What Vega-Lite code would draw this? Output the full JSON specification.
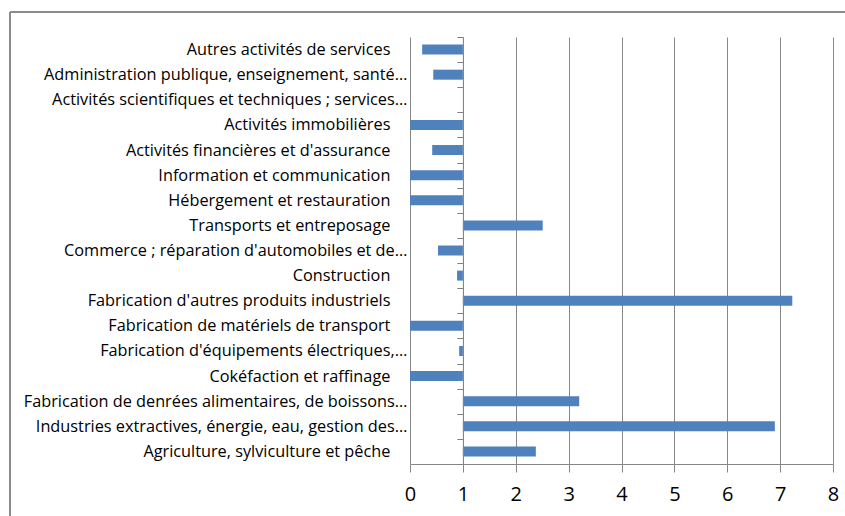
{
  "$schema": "https://vega.github.io/schema/vega-lite/v6.json",
  "autosize": "none",
  "width": 423,
  "height": 427,
  "padding": {"left": 410, "top": 37, "right": 12, "bottom": 52},
  "background": "white",
  "config": {"view": {"stroke": null}, "font": "Open Sans", "axisBand": {"ticks": true, "tickBand": "extent"}},
  "data": {"values": [
    {"sector": "Autres activités de services", "value": 0.23},
    {"sector": "Administration publique, enseignement, santé…", "value": 0.44},
    {"sector": "Activités scientifiques et techniques ; services…", "value": 1},
    {"sector": "Activités immobilières", "value": 0},
    {"sector": "Activités financières et d'assurance", "value": 0.42},
    {"sector": "Information et communication", "value": 0},
    {"sector": "Hébergement et restauration", "value": 0},
    {"sector": "Transports et entreposage", "value": 2.51},
    {"sector": "Commerce ; réparation d'automobiles et de…", "value": 0.53},
    {"sector": "Construction", "value": 0.89},
    {"sector": "Fabrication d'autres produits industriels", "value": 7.23},
    {"sector": "Fabrication de matériels de transport", "value": 0},
    {"sector": "Fabrication d'équipements électriques,…", "value": 0.93},
    {"sector": "Cokéfaction et raffinage", "value": 0},
    {"sector": "Fabrication de denrées alimentaires, de boissons…", "value": 3.2},
    {"sector": "Industries extractives,  énergie, eau, gestion des…", "value": 6.9},
    {"sector": "Agriculture, sylviculture et pêche", "value": 2.38}
  ]},
  "layer": [
    {
      "mark": {"type": "bar", "color": "#4F81BD", "height": 10},
      "encoding": {
        "y": {"field": "sector", "type": "nominal", "sort": null,
              "scale": {"paddingInner": 0, "paddingOuter": 0},
              "axis": {"title": null, "offset": -52.9, "ticks": true, "tickBand": "extent", "tickSize": 6, "tickWidth": 1,
                       "tickColor": "#7f7f7f", "domain": true, "domainColor": "#878787",
                       "labelPadding": {"condition": {"test": "indexof(datum.label, '…') >= 0", "value": 50}, "value": 67},
                       "labelFontSize": 16.3, "labelColor": "#000000", "labelLimit": 0, "grid": false, "zindex": 1}},
        "x": {"field": "value", "type": "quantitative",
              "scale": {"domain": [0, 8], "nice": false, "zero": false},
              "axis": {"title": null, "values": [0,1,2,3,4,5,6,7,8], "grid": true, "gridColor": "#878787",
                       "domainColor": "#878787", "tickColor": "#878787", "tickSize": 8,
                       "labelFontSize": 20, "labelColor": "#000000", "labelPadding": 12, "labelFlush": false}},
        "x2": {"datum": 1}
      }
    },
    {
      "mark": {"type": "rule", "color": "#8c8c8c", "strokeWidth": 1.5},
      "encoding": {
        "x": {"datum": -7.565, "type": "quantitative"},
        "y": {"datum": 1.0585, "type": "quantitative", "scale": {"domain": [0, 1]}, "axis": null},
        "y2": {"datum": -0.15}
      }
    },
    {
      "mark": {"type": "rule", "color": "#8c8c8c", "strokeWidth": 1.5},
      "encoding": {
        "x": {"datum": -7.565, "type": "quantitative"},
        "x2": {"datum": 8.3},
        "y": {"datum": 1.0585, "type": "quantitative", "scale": {"domain": [0, 1]}, "axis": null}
      }
    }
  ],
  "resolve": {"scale": {"y": "independent"}}
}
